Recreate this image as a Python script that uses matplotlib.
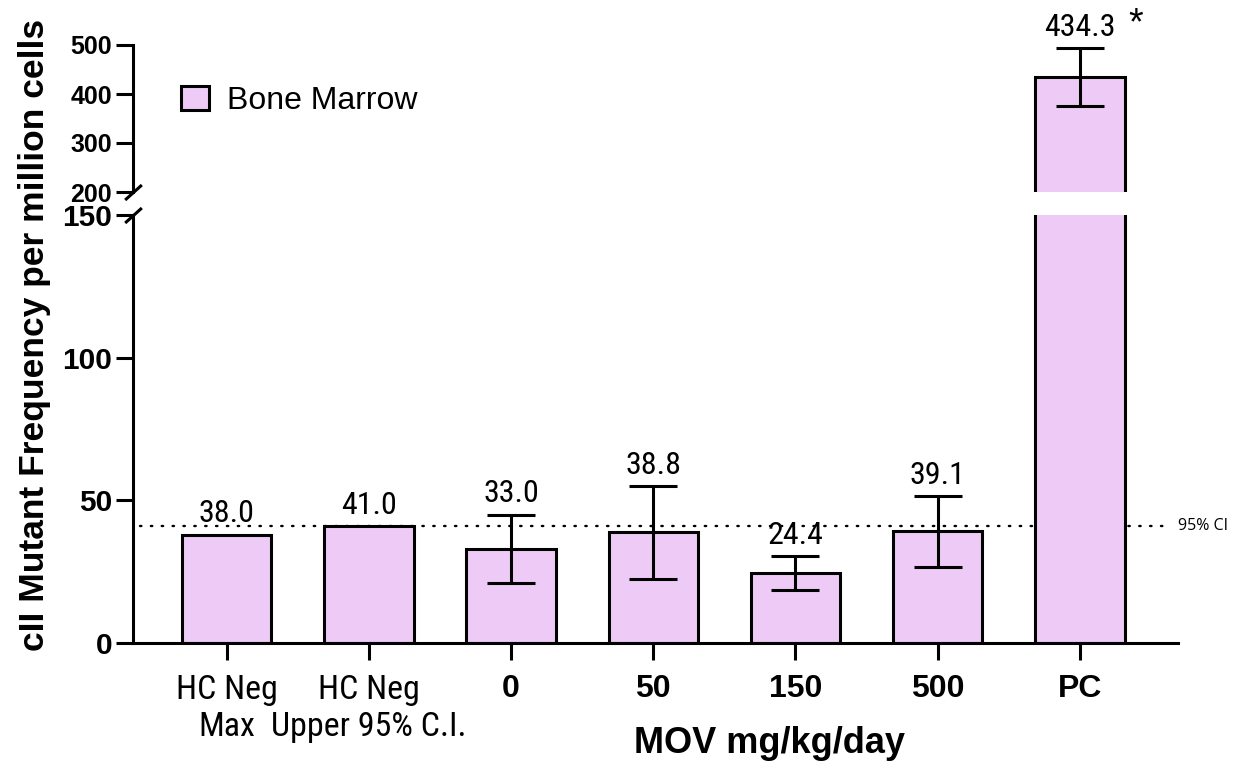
import numpy as np
import matplotlib
matplotlib.use('Agg')
import matplotlib.pyplot as plt
from matplotlib import font_manager
from matplotlib.font_manager import FontProperties
from matplotlib.patches import Patch
from matplotlib.transforms import blended_transform_factory

plt.rcParams['font.family'] = ['Liberation Sans', 'DejaVu Sans']

# data
groups = ['HC Neg\nMax', 'HC Neg\nUpper 95% C.I.', '0', '50', '150', '500', 'PC']
means = [38.0, 41.0, 33.0, 38.8, 24.4, 39.1, 434.3]
errors = [None, None, 12.0, 16.2, 6.0, 12.3, 59.0]
ci_upper = 41.0
lower_ticks = [0, 50, 100, 150]
upper_ticks = [200, 300, 400, 500]

fill = '#EECBF6'
lw = 2.2

# pick a condensed face if one is installed, else plain Liberation Sans a bit smaller
fonts = font_manager.fontManager.ttflist
names = {f.name for f in fonts}
narrow_size = 23
narrow = None
for n in ['Liberation Sans Narrow', 'Arial Narrow', 'Roboto Condensed',
          'Open Sans Condensed', 'DejaVu Sans Condensed', 'Noto Sans Condensed']:
    if n in names:
        narrow = dict(family=n)
        break
if narrow is None:
    cond = [f for f in fonts if f.stretch in ('condensed', 'semi-condensed', 575, 650)
            and f.style == 'normal' and f.weight in (400, 'normal', 'regular')]
    if cond:
        narrow = dict(family=cond[0].name, stretch=cond[0].stretch)
if narrow is None:
    narrow = dict(family='Liberation Sans')
    narrow_size = 20

W, H = 1235, 762
fig = plt.figure(figsize=(W / 100, H / 100), dpi=100)
left, right = 133, 1178
ax_lo = fig.add_axes([left / W, (H - 643) / H, (right - left) / W, (643 - 215) / H])
ax_hi = fig.add_axes([left / W, (H - 192) / H, (right - left) / W, (192 - 45) / H])

x = np.arange(len(groups))
xlim = (-0.659, 6.69)

for ax in (ax_lo, ax_hi):
    ax.bar(x, means, width=0.63, color=fill, edgecolor='black', linewidth=lw, zorder=2)
    idx = [i for i, e in enumerate(errors) if e is not None]
    ax.errorbar(x[idx], [means[i] for i in idx], yerr=[errors[i] for i in idx],
                fmt='none', ecolor='black', elinewidth=lw, capsize=17.5, capthick=lw, zorder=3)
    ax.set_xlim(*xlim)
    ax.spines['top'].set_visible(False)
    ax.spines['right'].set_visible(False)
    for s in ax.spines.values():
        s.set_linewidth(lw)
    ax.tick_params(axis='both', direction='out', length=12, width=lw, pad=3)

ax_lo.set_ylim(0, 150)
ax_hi.set_ylim(200, 500)
ax_lo.set_yticks(lower_ticks)
ax_hi.set_yticks(upper_ticks)
ax_hi.spines['bottom'].set_visible(False)
ax_hi.set_xticks([])

for lab in ax_lo.get_yticklabels():
    lab.set_fontsize(21.5)
    lab.set_fontweight('bold')
for lab in ax_hi.get_yticklabels():
    lab.set_fontsize(18)
    lab.set_fontweight('bold')

ax_lo.set_xticks(x)
ax_lo.set_xticklabels(groups)
ax_lo.tick_params(axis='x', pad=10)
for i, lab in enumerate(ax_lo.get_xticklabels()):
    if groups[i].startswith('HC'):
        lab.set_fontproperties(FontProperties(size=narrow_size + 1.5, **narrow))
        lab.set_linespacing(1.2)
    else:
        lab.set_fontsize(23)
        lab.set_fontweight('bold')

# dotted 95% CI line
ax_lo.axhline(ci_upper, xmin=0.007, xmax=0.99, color='black', lw=1.7,
              linestyle=(0, (0.6, 4.0)), dash_capstyle='round', zorder=1)
tr = blended_transform_factory(ax_lo.transAxes, ax_lo.transData)
ax_lo.annotate('95% CI', xy=(1.0, ci_upper), xycoords=tr, xytext=(0, 0),
               textcoords='offset points', ha='left', va='center',
               fontsize=11.5, family=['Open Sans', 'DejaVu Sans'], annotation_clip=False)

# value labels
for i, m in enumerate(means):
    top = m + (errors[i] or 0)
    ax = ax_hi if m > 150 else ax_lo
    ax.annotate(f'{m:.1f}', xy=(x[i], top), xytext=(0, 9), textcoords='offset points',
                ha='center', va='baseline', annotation_clip=False,
                fontproperties=FontProperties(size=narrow_size, **narrow))
pc = len(means) - 1
ax_hi.annotate('*', xy=(x[pc], means[pc] + errors[pc]), xytext=(40, 17),
               textcoords='offset points', ha='center', va='center', fontsize=27,
               annotation_clip=False)

# axis break marks
kw = dict(marker=[(-1, -0.9), (1, 0.9)], markersize=12, linestyle='none',
          color='black', mec='black', mew=lw, clip_on=False)
ax_lo.plot([0], [1], transform=ax_lo.transAxes, **kw)
ax_hi.plot([0], [0], transform=ax_hi.transAxes, **kw)

# labels
fig.text(35 / W, 1 - 335 / H, 'cII Mutant Frequency per million cells', rotation=90,
         ha='center', va='center', fontsize=25.5, fontweight='bold')
fig.text(770 / W, 1 - 753 / H, 'MOV mg/kg/day', ha='center', va='baseline',
         fontsize=26, fontweight='bold')

# legend
handle = Patch(facecolor=fill, edgecolor='black', linewidth=lw)
fig.legend([handle], ['Bone Marrow'], loc='center left',
           bbox_to_anchor=(181 / W, 1 - 101 / H), frameon=False, fontsize=23,
           handlelength=0.88, handleheight=0.78, handletextpad=0.56,
           borderpad=0, borderaxespad=0)

fig.savefig('out.png', dpi=100)
